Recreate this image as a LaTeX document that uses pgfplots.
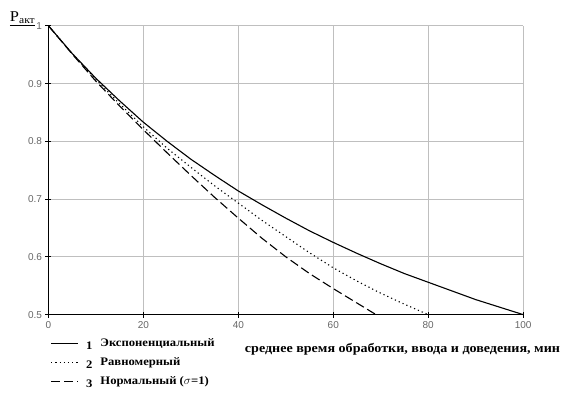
\documentclass[border={10pt 6pt 4pt 12pt}]{standalone}
\usepackage{pgfplots}
\pgfplotsset{compat=1.18}
\usepackage{fontspec}
\setmainfont{Liberation Serif}
\newfontfamily\lblfont[FakeStretch=1.1]{Liberation Serif}
\newfontfamily\tickfont{Liberation Sans}
\begin{document}
\begin{tikzpicture}
\begin{axis}[
  scale only axis,
  width=475pt, height=289pt,
  xmin=0, xmax=100, ymin=0.5, ymax=1,
  xtick={0,20,...,100},
  ytick={0.5,0.6,...,1.01},
  /pgf/number format/assume math mode=true,
  yticklabel style={/pgf/number format/fixed, /pgf/number format/precision=1},
  ticklabel style={font=\tickfont\fontsize{10}{12}\selectfont, text=black!60},
  grid=major,
  major grid style={black!25, line width=0.8pt},
  axis x line=bottom, axis y line=left,
  axis line style={-, black, line width=1.2pt},
  tick align=center, major tick length=6pt,
  tick style={black, line width=0.8pt},
  clip=false,
  xlabel={среднее время обработки, ввода и доведения, мин},
  xlabel style={font=\lblfont\bfseries\fontsize{12.8}{14}\selectfont, at={(rel axis cs:1.078,0)}, anchor=base east, inner sep=0pt, yshift=-38pt},
  ylabel={\underline{P\textsubscript{акт}}},
  ylabel style={font=\lblfont\fontsize{15}{17}\selectfont, rotate=-90, at={(axis description cs:0,1)}, anchor=base east, inner sep=0pt, xshift=-13pt, yshift=4pt},
  legend style={at={(axis description cs:0.004,0)}, anchor=north west, draw=none, fill=none, yshift=-22pt, font=\lblfont\bfseries\fontsize{11.5}{13.5}\selectfont, row sep=5.5pt, inner sep=0pt},
  legend cell align=left,
  legend image post style={xscale=1.55},
]
\addplot[black, line width=1.1pt] coordinates {
(0,1.000) (5,0.952) (10,0.909) (15,0.870) (20,0.833) (25,0.800) (30,0.769) (35,0.741) (40,0.714) (45,0.690) (50,0.667) (55,0.645) (60,0.625) (65,0.606) (70,0.588) (75,0.571) (80,0.556) (85,0.541) (90,0.526) (95,0.513) (100,0.500)};
\addlegendentry{\hspace{6pt}\raisebox{-3pt}{1}\hspace{8pt}Экспоненциальный}
\addplot[black, line width=1.1pt, dash pattern=on 1.2pt off 3pt] coordinates {
(0,1.000) (5,0.952) (10,0.907) (15,0.865) (20,0.825) (25,0.788) (30,0.755) (35,0.723) (40,0.693) (45,0.663) (50,0.635) (55,0.607) (60,0.581) (65,0.558) (70,0.537) (75,0.518) (80,0.500)};
\addlegendentry{\hspace{6pt}\raisebox{-3pt}{2}\hspace{8pt}Равномерный}
\addplot[black, line width=1.1pt, dash pattern=on 9pt off 4pt] coordinates {
(0,1.000) (5,0.951) (10,0.904) (15,0.861) (20,0.820) (25,0.780) (30,0.741) (35,0.703) (40,0.667) (45,0.632) (50,0.600) (55,0.571) (60,0.545) (65,0.520) (69,0.500)};
\addlegendentry{\hspace{6pt}\raisebox{-3pt}{3}\hspace{8pt}Нормальный ($\sigma$=1)}
\end{axis}
\end{tikzpicture}
\end{document}
